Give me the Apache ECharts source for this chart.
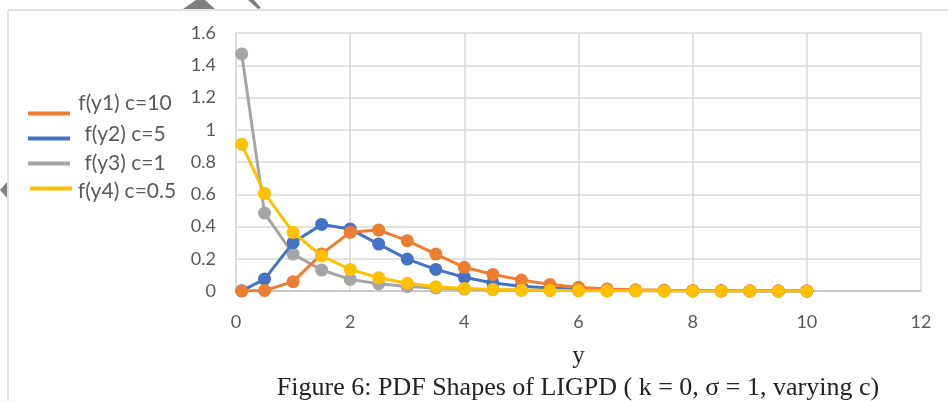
<!DOCTYPE html>
<html>
<head>
<meta charset="utf-8">
<script src="https://cdn.jsdelivr.net/npm/echarts@6/dist/echarts.min.js"></script>
<style>
  html, body { margin: 0; padding: 0; background: #fff; }
  #main { width: 948px; height: 401px; }
</style>
</head>
<body>
<div id="main"></div>
<script>
// x positions of the points
var xs = [0.1, 0.5, 1, 1.5, 2, 2.5, 3, 3.5, 4, 4.5, 5, 5.5, 6, 6.5, 7, 7.5, 8, 8.5, 9, 9.5, 10];

var y1 = [0, 0.003, 0.058, 0.23, 0.364, 0.378, 0.312, 0.229, 0.147, 0.103, 0.068, 0.041, 0.023, 0.013, 0.007, 0.004, 0.002, 0.001, 0.001, 0, 0];
var y2 = [0.001, 0.074, 0.30, 0.413, 0.384, 0.291, 0.198, 0.134, 0.085, 0.05, 0.03, 0.018, 0.01, 0.006, 0.003, 0.002, 0.001, 0.001, 0, 0, 0];
var y3 = [1.47, 0.483, 0.229, 0.13, 0.072, 0.045, 0.028, 0.018, 0.012, 0.008, 0.005, 0.003, 0.002, 0.001, 0.001, 0.001, 0, 0, 0, 0, 0];
var y4 = [0.91, 0.605, 0.364, 0.217, 0.134, 0.082, 0.048, 0.027, 0.016, 0.01, 0.006, 0.004, 0.002, 0.001, 0.001, 0, 0, 0, 0, 0, 0];

var names = ['f(y1) c=10', 'f(y2) c=5', 'f(y3) c=1', 'f(y4) c=0.5'];
var colors = ['#ED7D31', '#4472C4', '#A5A5A5', '#FFC000'];
var caption = 'Figure 6: PDF Shapes of LIGPD ( k = 0, σ = 1, varying c)';

function pairs(ys) {
    var out = [];
    for (var i = 0; i < xs.length; i++) out.push([xs[i], ys[i]]);
    return out;
}

function makeSeries(idx, ys, z) {
    return {
        name: names[idx],
        type: 'line',
        data: pairs(ys),
        color: colors[idx],
        symbol: 'circle',
        symbolSize: 13,
        z: z,
        lineStyle: { width: 3 },
        itemStyle: { color: colors[idx] },
        emphasis: { disabled: true }
    };
}

// one legend per entry: the text sits a bit off its line sample, like the original
var legTop = [88, 119, 148, 170];
var legLeft = [23, 23, 23, 25];
var legPad = [[0, 0, 20, 0], [0, 0, 8, 0], [0, 0, 0, 0], [6, 0, 0, 0]];
var legends = [];
for (var i = 0; i < names.length; i++) {
    legends.push({
        left: legLeft[i],
        top: legTop[i],
        icon: 'rect',
        itemWidth: 42,
        itemHeight: 4,
        data: [names[i]],
        formatter: '{a|{name}}',
        textStyle: {
            rich: {
                a: {
                    fontFamily: 'Lato', fontSize: 21, lineHeight: 20, color: '#595959',
                    width: 100, align: 'center', padding: legPad[i]
                }
            }
        }
    });
}

var chart = echarts.init(document.getElementById('main'));
var option = {
    animation: false,
    backgroundColor: '#fff',
    legend: legends,
    graphic: [
        { type: 'line', shape: { x1: 8, y1: 10, x2: 948, y2: 10 }, style: { stroke: '#d9d9d9', lineWidth: 1.5 }, silent: true },
        { type: 'line', shape: { x1: 8, y1: 10, x2: 8, y2: 401 }, style: { stroke: '#d9d9d9', lineWidth: 1.5 }, silent: true },
        // selection handle fragments seen in the picture
        { type: 'polygon', shape: { points: [[183, 9], [196, 0], [205, 0], [215, 9]] }, style: { fill: '#7f7f7f' }, silent: true },
        { type: 'polygon', shape: { points: [[248, 0], [254, 0], [261, 8], [258, 9]] }, style: { fill: '#7f7f7f' }, silent: true },
        { type: 'polygon', shape: { points: [[0, 190], [7, 182], [7, 198]] }, style: { fill: '#7f7f7f' }, silent: true },
        {
            type: 'text',
            x: 578,
            y: 388,
            style: {
                text: caption,
                align: 'center',
                verticalAlign: 'middle',
                fontFamily: 'Liberation Serif',
                fontSize: 26,
                fill: '#222'
            },
            silent: true
        }
    ],
    grid: { left: 236, right: 27, top: 33, bottom: 110 },
    xAxis: {
        type: 'value',
        min: 0,
        max: 12,
        interval: 2,
        name: 'y',
        nameLocation: 'middle',
        nameGap: 53,
        nameTextStyle: { fontFamily: 'Liberation Serif', fontSize: 25, color: '#222' },
        axisLine: { show: true, lineStyle: { color: '#bfbfbf', width: 1.5 } },
        axisTick: { show: false },
        axisLabel: { fontFamily: 'Lato', fontSize: 18, color: '#595959', margin: 22 },
        splitLine: { show: true, lineStyle: { color: '#d9d9d9', width: 1.5 } }
    },
    yAxis: {
        type: 'value',
        min: 0,
        max: 1.6,
        interval: 0.2,
        axisLine: { show: true, lineStyle: { color: '#d9d9d9', width: 1.5 } },
        axisTick: { show: false },
        axisLabel: {
            fontFamily: 'Lato', fontSize: 18, color: '#595959', margin: 20,
            formatter: function (v) { return String(Math.round(v * 10) / 10); }
        },
        splitLine: { show: true, lineStyle: { color: '#d9d9d9', width: 1.5 } }
    },
    series: [
        makeSeries(0, y1, 4),
        makeSeries(1, y2, 3),
        makeSeries(2, y3, 2),
        makeSeries(3, y4, 5)
    ]
};
chart.setOption(option);
</script>
</body>
</html>
